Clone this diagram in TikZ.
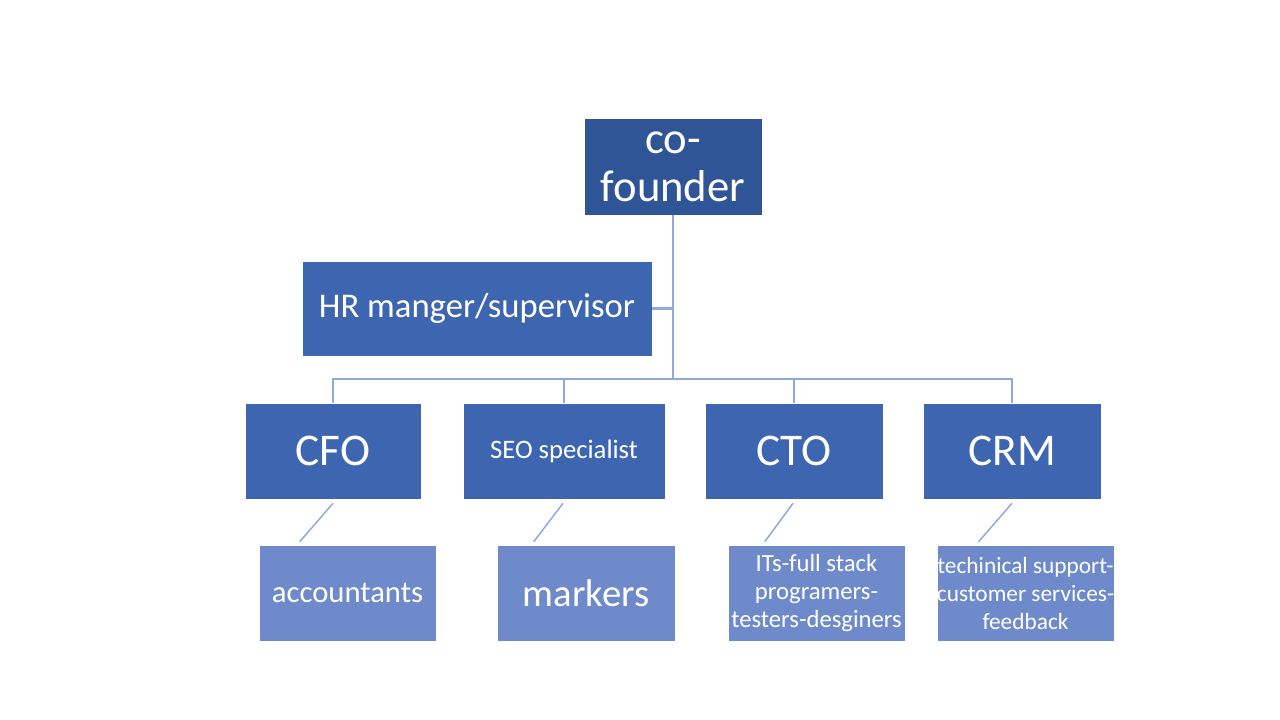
\documentclass[tikz,border=0pt]{standalone}
\usepackage{fontspec}
\setmainfont{Carlito}
\usetikzlibrary{calc}
\definecolor{topblue}{HTML}{2F5597}
\definecolor{midblue}{HTML}{3E66B0}
\definecolor{lowblue}{HTML}{6E8ACB}
\definecolor{linkblue}{HTML}{8EA9DB}
\tikzset{
  box/.style={rectangle, inner sep=0pt, align=center, text=white, draw=white, line width=0.4pt},
  topbox/.style={box, fill=topblue},
  midbox/.style={box, fill=midblue},
  lowbox/.style={box, fill=lowblue},
  link/.style={draw=linkblue, line width=1.6pt},
  sublink/.style={draw=linkblue, line width=1.1pt},
}
\begin{document}
\begin{tikzpicture}[x=0.75pt,y=-0.75pt]
\useasboundingbox[fill=white] (0,0) rectangle (1280,720);
\node[topbox, minimum width=133.5pt, minimum height=72.75pt, font=\fontsize{33.5}{36}\selectfont] (cof) at (673,166.5) {co-\\founder};
\node[midbox, minimum width=262.5pt, minimum height=71.25pt, font=\fontsize{26}{30}\selectfont] (hr) at (477,308.5) {HR manger/supervisor};
\node[midbox, minimum width=132pt, minimum height=72pt, font=\fontsize{34}{38}\selectfont] (cfo) at (333,451) {CFO};
\node[midbox, minimum width=151.5pt, minimum height=72pt, font=\fontsize{20}{24}\selectfont] (seo) at (564,451) {SEO specialist};
\node[midbox, minimum width=133.5pt, minimum height=72pt, font=\fontsize{34}{38}\selectfont] (cto) at (794,451) {CTO};
\node[midbox, minimum width=133.5pt, minimum height=72pt, font=\fontsize{34}{38}\selectfont] (crm) at (1012,451) {CRM};
\node[lowbox, minimum width=132.75pt, minimum height=72pt, font=\fontsize{23}{27}\selectfont] (acc) at (347.5,593) {accountants};
\node[lowbox, minimum width=133.5pt, minimum height=72pt, font=\fontsize{29}{33}\selectfont] (mark) at (586,593) {markers};
\node[lowbox, minimum width=132.75pt, minimum height=72pt, font=\fontsize{18.5}{21}\selectfont] (its) at (816.5,593) {ITs-full stack\\programers-\\testers-desginers};
\node[lowbox, minimum width=132.75pt, minimum height=72pt, font=\fontsize{17.5}{21}\selectfont] (tech) at (1025.5,593) {techinical support-\\customer services-\\feedback};
\coordinate (bus) at (673,379);
\draw[link] (cof.south) -- (bus);
\draw[link] (hr.east) -- (hr.east -| cof.south);
\draw[link] (cfo.north) |- (bus) -| (crm.north);
\draw[link] (seo.north) -- (seo.north |- bus);
\draw[link] (cto.north) -- (cto.north |- bus);
\draw[sublink] ($(cfo.south)+(0,4)$) -- ($(acc.north west)+(41,-3)$);
\draw[sublink] ($(seo.south)+(-1,4)$) -- ($(mark.north west)+(37,-3)$);
\draw[sublink] ($(cto.south)+(-1,4)$) -- ($(its.north west)+(37,-3)$);
\draw[sublink] ($(crm.south)+(0,4)$) -- ($(tech.north west)+(42,-3)$);
\end{tikzpicture}
\end{document}
